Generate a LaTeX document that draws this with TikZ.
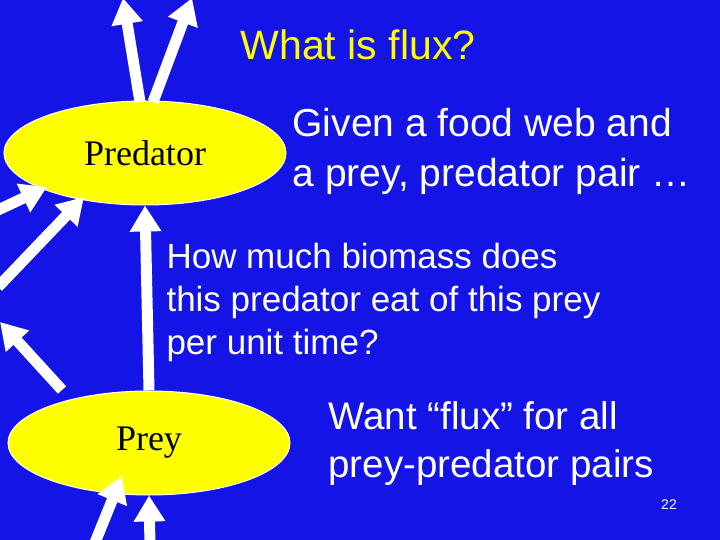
\documentclass[tikz,border=0pt]{standalone}
\usepackage{fontspec}
\setmainfont{Liberation Sans}
\newfontfamily\serifnode{Liberation Serif}
\usetikzlibrary{arrows.meta,shapes.geometric}
\definecolor{slideblue}{RGB}{20,20,230}
\definecolor{slideyellow}{RGB}{255,255,0}
\tikzset{
  species/.style={ellipse,fill=slideyellow,draw=white,line width=1pt,minimum width=282pt,minimum height=104pt,font=\serifnode\fontsize{36}{36}\selectfont},
  flow/.style={white,line width=11pt,-{Triangle[length=26pt,width=30pt]}},
  body/.style={white,align=left,anchor=north west,font=\fontsize{33}{47}\selectfont}
}
\begin{document}
\begin{tikzpicture}[x=1pt,y=-1pt]
  \useasboundingbox (0,0) rectangle (720,540);
  \clip (0,0) rectangle (720,540);
  \fill[slideblue] (0,0) rectangle (720,540);
  \node (title) [slideyellow,font=\fontsize{41}{41}\selectfont] at (358,45) {What is flux?};
  \node (pred) [species] at (145,153) {Predator};
  \node (prey) [species] at (149,443) {Prey};
  % outgoing and incoming flows
  \coordinate (up1) at (123,-2);
  \coordinate (up2) at (192,-2);
  \coordinate (in1) at (-2,210);
  \coordinate (in2) at (-2,287);
  \coordinate (out1) at (0,322);
  \coordinate (low1) at (94,545);
  \coordinate (low2) at (150,545);
  \draw[flow] (140,102) -- (up1);
  \draw[flow] (153,102) -- (up2);
  \draw[flow] (in1) -- (47,187);
  \draw[flow] (in2) -- (84,197);
  \draw[flow] (prey.north) -- (pred.south);
  \draw[flow] (62,390) -- (out1);
  \draw[flow] (low1) -- (122,476);
  \draw[flow] (low2) -- (prey.south);
  % texts
  \node (given) [body,font=\fontsize{39}{50}\selectfont] at (289,105) {Given a food web and\\a prey, predator pair \ldots};
  \node (how) [body,font=\fontsize{35}{43}\selectfont] at (163,240) {How much biomass does\\this predator eat of this prey\\per unit time?};
  \node (want) [body,font=\fontsize{38.5}{48}\selectfont] at (325,398) {Want “flux” for all\\prey-predator pairs};
  \node (page) [white,font=\fontsize{14}{14}\selectfont] at (669,505) {22};
\end{tikzpicture}
\end{document}
